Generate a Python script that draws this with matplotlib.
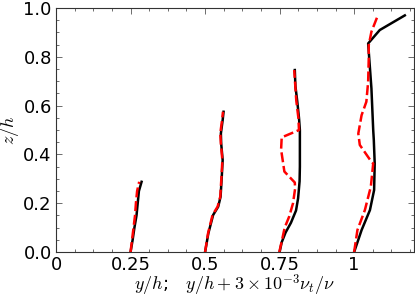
import matplotlib
matplotlib.use("Agg")
import matplotlib.pyplot as plt
from matplotlib.ticker import MultipleLocator, FormatStrFormatter

# profiles at stations y/h = 0.25, 0.5, 0.75, 1  (black: y/h, red: y/h + 3e-3 nu_t/nu)
z1_blk = [0.0, 0.05, 0.1, 0.15, 0.2, 0.25, 0.288]
y1_blk = [0.25, 0.257, 0.263, 0.270, 0.274, 0.278, 0.287]
z1_red = [0.0, 0.05, 0.1, 0.15, 0.2, 0.25, 0.288]
y1_red = [0.25, 0.255, 0.260, 0.265, 0.268, 0.272, 0.279]

z2_blk = [0.0, 0.077, 0.152, 0.186, 0.227, 0.309, 0.377, 0.445, 0.486, 0.541, 0.575]
y2_blk = [0.5, 0.511, 0.527, 0.544, 0.552, 0.556, 0.559, 0.554, 0.553, 0.559, 0.562]
z2_red = [0.0, 0.077, 0.152, 0.186, 0.227, 0.309, 0.377, 0.445, 0.486, 0.541, 0.575]
y2_red = [0.5, 0.510, 0.525, 0.542, 0.551, 0.555, 0.558, 0.553, 0.551, 0.557, 0.560]

z3_blk = [0.0, 0.04, 0.08, 0.12, 0.17, 0.22, 0.29, 0.35, 0.42, 0.5, 0.55, 0.62, 0.68, 0.746]
y3_blk = [0.75, 0.757, 0.770, 0.788, 0.805, 0.812, 0.817, 0.818, 0.818, 0.818, 0.815, 0.809, 0.803, 0.801]
z3_red = [0.0, 0.06, 0.1, 0.145, 0.2, 0.26, 0.285, 0.33, 0.42, 0.47, 0.5, 0.55, 0.62, 0.746]
y3_red = [0.749, 0.760, 0.767, 0.782, 0.795, 0.802, 0.801, 0.766, 0.755, 0.757, 0.815, 0.813, 0.806, 0.799]

z4_blk = [0.0, 0.09, 0.172, 0.254, 0.363, 0.459, 0.5, 0.671, 0.855, 0.910, 0.970]
y4_blk = [1.0, 1.025, 1.053, 1.067, 1.069, 1.066, 1.064, 1.058, 1.047, 1.086, 1.170]
z4_red = [0.0, 0.09, 0.172, 0.268, 0.363, 0.37, 0.439, 0.486, 0.561, 0.616, 0.698, 0.793, 0.848, 0.903, 0.962]
y4_red = [1.0, 1.011, 1.036, 1.056, 1.064, 1.058, 1.019, 1.014, 1.025, 1.041, 1.047, 1.049, 1.049, 1.058, 1.077]

xticks = [0, 0.25, 0.5, 0.75, 1]
xticklabels = ["0", "0.25", "0.5", "0.75", "1"]

plt.rcParams["font.size"] = 13
plt.rcParams["mathtext.fontset"] = "cm"

fig = plt.figure(figsize=(4.15, 2.99), dpi=100)
ax = fig.add_axes([0.135, 0.157, 0.862, 0.816])

profiles = [(y1_blk, z1_blk, y1_red, z1_red),
            (y2_blk, z2_blk, y2_red, z2_red),
            (y3_blk, z3_blk, y3_red, z3_red),
            (y4_blk, z4_blk, y4_red, z4_red)]
for yb, zb, yr, zr in profiles:
    ax.plot(yb, zb, color="black", lw=1.8)
    ax.plot(yr, zr, color="red", lw=1.8, dashes=(4, 1.5))

ax.set_xlim(0, 1.2)
ax.set_ylim(0, 1.0)
ax.set_xticks(xticks)
ax.set_xticklabels(xticklabels)
ax.xaxis.set_minor_locator(MultipleLocator(0.0625))
ax.yaxis.set_major_locator(MultipleLocator(0.2))
ax.yaxis.set_minor_locator(MultipleLocator(0.05))
ax.yaxis.set_major_formatter(FormatStrFormatter("%.1f"))
ax.tick_params(which="both", direction="in", top=True, right=True, width=0.6, color="#555555")
ax.tick_params(which="major", length=4)
ax.tick_params(which="minor", length=2)
ax.tick_params(axis="x", pad=3)
ax.tick_params(axis="y", pad=3)
for s in ax.spines.values():
    s.set_linewidth(0.8)
    s.set_color("#333333")

ax.set_xlabel(r"$y/h$;   $y/h + 3\times10^{-3}\nu_t/\nu$", labelpad=-1)
ax.set_ylabel(r"$z/h$", labelpad=2)

fig.savefig("out.png", dpi=100)
